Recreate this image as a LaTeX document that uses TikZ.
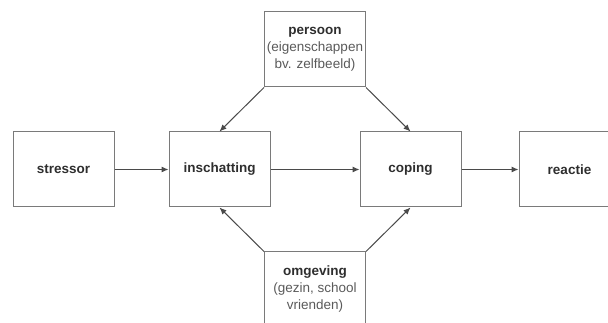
\documentclass[tikz,border=0pt]{standalone}
\usepackage{fontspec}
\setmainfont{Liberation Sans}
\usetikzlibrary{arrows.meta}
\definecolor{boxline}{HTML}{7A7A7A}
\definecolor{arrowline}{HTML}{4A4A4A}
\definecolor{txt}{HTML}{2E2E2E}
\definecolor{subtxt}{HTML}{5A5A5A}
\begin{document}
\begin{tikzpicture}[x=1pt,y=-1pt,
  box/.style={draw=boxline, line width=1pt, minimum width=101pt, minimum height=75pt,
    inner sep=0pt, align=center, font=\fontsize{13.5}{17}\selectfont, text=txt},
  sub/.style={},
  conn/.style={draw=arrowline, line width=1pt, -{Latex[length=7pt,width=6pt]}}]
\useasboundingbox (0,0) rectangle (608,323);
\clip (0,0) rectangle (608,323);
\node[box] (stressor) at (63.5,169.5) {\textbf{stressor}};
\node[box] (insch) at (219.5,169.5) {\textbf{inschatting}};
\node[box] (coping) at (410.5,169.5) {\textbf{coping}};
\node[box] (reactie) at (569.5,169.5) {\textbf{reactie}};
\node[box] (persoon) at (315,49.5) {\textbf{persoon}\\{\color{subtxt}(eigenschappen}\\{\color{subtxt}bv. zelfbeeld)}};
\node[box] (omgeving) at (315,289.5) {\textbf{omgeving}\\{\color{subtxt}(gezin, school}\\{\color{subtxt}vrienden)}};
\draw[conn] (stressor) -- (insch);
\draw[conn] (insch) -- (coping);
\draw[conn] (coping) -- (reactie);
\draw[conn] (persoon.south west) -- (insch.north);
\draw[conn] (persoon.south east) -- (coping.north);
\draw[conn] (omgeving.north west) -- (insch.south);
\draw[conn] (omgeving.north east) -- (coping.south);
\end{tikzpicture}
\end{document}
